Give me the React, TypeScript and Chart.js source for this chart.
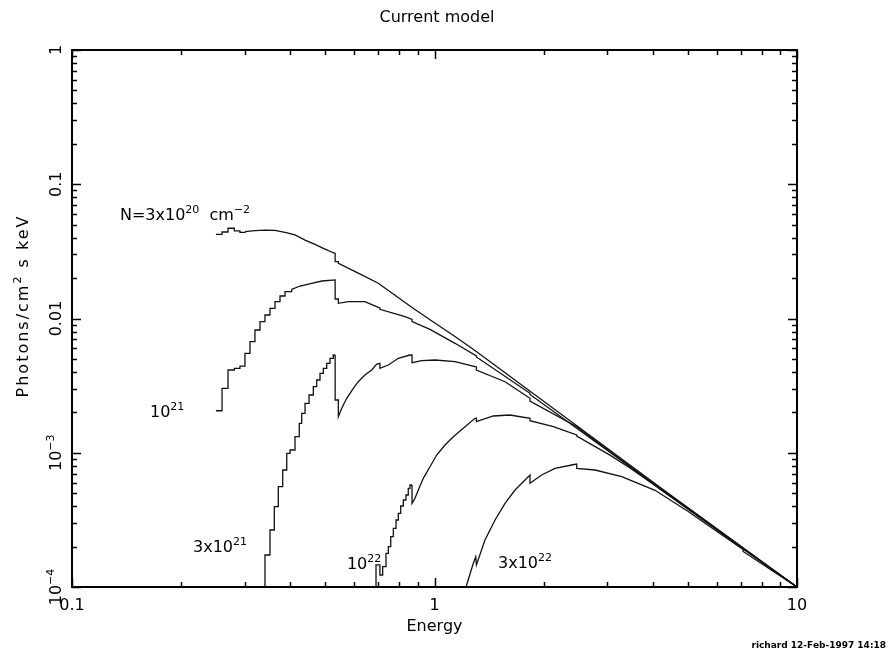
import React, { useEffect, useRef } from 'react';
import { Chart, registerables } from 'chart.js';

Chart.register(...registerables);

// ---------- axis ticks / labels ----------
const xMajorValues = [0.1, 1, 10];
const xTickLabels = ['0.1', '1', '10'];
const yMajorValues = [1, 0.1, 0.01, 1e-3, 1e-4];
const yTickBase = ['1', '0.1', '0.01', '10', '10'];
const yTickSup = ['', '', '', '\u22123', '\u22124'];

const titleText = 'Current model';
const xTitle = 'Energy';
const footerText = 'richard 12-Feb-1997 14:18';

// ---------- curve 1 : N = 3e20 ----------
const c1StepE = [0.2495, 0.2594, 0.2694, 0.2804, 0.2906, 0.3000];
const c1StepF = [0.0424, 0.0441, 0.0470, 0.0449, 0.0438, 0.0443];
const c1LineE = [0.3000, 0.3197, 0.3407, 0.3631, 0.3869, 0.4123, 0.4394, 0.4681, 0.4988, 0.5257, 0.532, 0.532, 0.543, 0.543, 0.62, 0.6998, 0.8652, 0.9718, 1.139, 1.307, 4.28, 10];
const c1LineF = [0.0443, 0.0452, 0.0456, 0.0454, 0.0438, 0.0419, 0.0384, 0.0356, 0.0329, 0.0309, 0.0305, 0.0265, 0.0265, 0.0258, 0.0216, 0.0183, 0.01212, 0.0098, 0.00735, 0.00565, 5.3e-4, 1.0e-4];

// ---------- curve 2 : N = 1e21 ----------
const c2StepE = [0.2495, 0.2594, 0.2694, 0.2804, 0.2906, 0.3000, 0.3097, 0.3197, 0.3301, 0.3407, 0.3517, 0.3631, 0.3748, 0.3869, 0.4037];
const c2StepF = [0.002056, 0.003020, 0.004134, 0.00425, 0.00442, 0.005506, 0.006719, 0.008208, 0.009467, 0.010619, 0.011912, 0.013336, 0.014712, 0.015836, 0.0165];
const c2LineE = [0.4037, 0.4256, 0.4585, 0.4894, 0.532, 0.532, 0.543, 0.543, 0.5783, 0.6427, 0.6998, 0.707, 0.707, 0.8291, 0.867, 0.867, 0.9718, 1.139, 1.305, 1.305, 1.834, 1.834, 4.28, 10];
const c2LineF = [0.0165, 0.01746, 0.0183, 0.01902, 0.0194, 0.01397, 0.01397, 0.01298, 0.01334, 0.01334, 0.01212, 0.0120, 0.01171, 0.01031, 0.00983, 0.00947, 0.008307, 0.006534, 0.005257, 0.005166, 0.002773, 0.00272, 5.2e-4, 1.0e-4];

// ---------- curve 3 : N = 3e21 ----------
const c3StepE = [0.3343, 0.3407, 0.3517, 0.3615, 0.3708, 0.3813, 0.3912, 0.3995, 0.4123, 0.4236, 0.4302, 0.4394, 0.4506, 0.4631, 0.4732, 0.4832, 0.4934, 0.5042, 0.5148, 0.5257, 0.532];
const c3StepF = [1.0e-4, 1.731e-4, 2.658e-4, 3.963e-4, 5.587e-4, 7.437e-4, 9.906e-4, 1.0483e-3, 1.3167e-3, 1.657e-3, 1.967e-3, 2.335e-3, 2.692e-3, 3.105e-3, 3.482e-3, 3.906e-3, 4.256e-3, 4.637e-3, 5.052e-3, 5.346e-3, 5.346e-3];
const c3LineE = [0.532, 0.532, 0.543, 0.543, 0.5522, 0.5603, 0.5726, 0.5847, 0.5971, 0.6163, 0.6427, 0.6710, 0.6928, 0.707, 0.707, 0.7459, 0.7947, 0.8558, 0.867, 0.867, 0.9219, 1.003, 1.139, 1.2935, 1.305, 1.305, 1.565, 1.834, 1.834, 2.468, 4.28, 7.1, 10];
const c3LineF = [5.346e-3, 2.471e-3, 2.471e-3, 1.856e-3, 2.082e-3, 2.268e-3, 2.544e-3, 2.773e-3, 3.021e-3, 3.382e-3, 3.794e-3, 4.134e-3, 4.582e-3, 4.637e-3, 4.256e-3, 4.504e-3, 5.052e-3, 5.346e-3, 5.36e-3, 4.686e-3, 4.850e-3, 4.909e-3, 4.767e-3, 4.375e-3, 4.36e-3, 4.134e-3, 3.382e-3, 2.544e-3, 2.429e-3, 1.563e-3, 5.15e-4, 1.93e-4, 1.0e-4];

// ---------- curve 4 : N = 1e22 ----------
const c4StepE = [0.6810, 0.6897, 0.707, 0.7195, 0.7348, 0.7459, 0.7574, 0.7699, 0.7833, 0.7947, 0.8069, 0.8203, 0.8343, 0.8466, 0.8558, 0.867];
const c4StepF = [1.0e-4, 1.46e-4, 1.229e-4, 1.416e-4, 1.782e-4, 1.996e-4, 2.369e-4, 2.736e-4, 3.155e-4, 3.540e-4, 4.012e-4, 4.446e-4, 4.845e-4, 5.435e-4, 5.751e-4, 5.751e-4];
const c4LineE = [0.867, 0.867, 0.8835, 0.9022, 0.9313, 0.9718, 1.014, 1.069, 1.127, 1.2005, 1.2935, 1.305, 1.305, 1.453, 1.615, 1.834, 1.834, 2.127, 2.468, 2.468, 3.049, 3.462, 5.0, 7.1, 7.1, 10];
const c4LineF = [5.751e-4, 4.202e-4, 4.577e-4, 5.279e-4, 6.451e-4, 7.870e-4, 9.62e-4, 1.1422e-3, 1.3167e-3, 1.5208e-3, 1.8055e-3, 1.81e-3, 1.7032e-3, 1.8781e-3, 1.9108e-3, 1.8055e-3, 1.7326e-3, 1.5631e-3, 1.3558e-3, 1.33e-3, 9.6e-4, 7.7e-4, 3.85e-4, 1.95e-4, 1.92e-4, 1.0e-4];

// ---------- curve 5 : N = 3e22 ----------
const c5LineE = [1.2217, 1.2795, 1.2993, 1.305, 1.378, 1.469, 1.565, 1.668, 1.777, 1.834, 1.834, 1.975, 2.150, 2.390, 2.468, 2.468, 2.772, 3.284, 4.058, 5.013, 5.575, 7.1, 7.1, 10];
const c5LineF = [1.0e-4, 1.501e-4, 1.681e-4, 1.459e-4, 2.239e-4, 3.155e-4, 4.202e-4, 5.279e-4, 6.266e-4, 6.83e-4, 5.921e-4, 6.83e-4, 7.658e-4, 8.105e-4, 8.246e-4, 7.658e-4, 7.437e-4, 6.631e-4, 5.25e-4, 3.65e-4, 2.98e-4, 1.9e-4, 1.84e-4, 1.0e-4];

// ---------- curve labels (text, anchored in data coordinates) ----------
type Seg = { t: string; sup?: boolean };
const curveLabelTexts: Seg[][] = [
  [{ t: 'N=3x10' }, { t: '20', sup: true }, { t: '  cm' }, { t: '\u22122', sup: true }],
  [{ t: '10' }, { t: '21', sup: true }],
  [{ t: '3x10' }, { t: '21', sup: true }],
  [{ t: '10' }, { t: '22', sup: true }],
  [{ t: '3x10' }, { t: '22', sup: true }],
];
const curveLabelE = [0.1356, 0.1641, 0.2157, 0.5734, 1.497];
const curveLabelF = [0.0542, 1.845e-3, 1.823e-4, 1.361e-4, 1.385e-4];

const FONT = '"DejaVu Sans", "Liberation Sans", sans-serif';
const MAIN = 16;
const SUP = 11;
const RISE = 7;

function zip(e: number[], f: number[]) {
  return e.map((x, i) => ({ x, y: f[i] }));
}

function drawRich(ctx: CanvasRenderingContext2D, segs: Seg[], x: number, y: number, align: 'left' | 'center' | 'right') {
  const widths = segs.map((s) => {
    ctx.font = `${s.sup ? SUP : MAIN}px ${FONT}`;
    return ctx.measureText(s.t).width;
  });
  const total = widths.reduce((a, b) => a + b, 0);
  let cx = align === 'left' ? x : align === 'center' ? x - total / 2 : x - total;
  ctx.textAlign = 'left';
  ctx.textBaseline = 'alphabetic';
  segs.forEach((s, i) => {
    ctx.font = `${s.sup ? SUP : MAIN}px ${FONT}`;
    ctx.fillText(s.t, cx, s.sup ? y - RISE : y);
    cx += widths[i];
  });
}

const framePlugin = {
  id: 'pgframe',
  afterDraw(chart: any) {
    const ctx: CanvasRenderingContext2D = chart.ctx;
    const { left, right, top, bottom } = chart.chartArea;
    const xs = chart.scales.x;
    const ys = chart.scales.y;
    ctx.save();
    ctx.strokeStyle = '#000';
    ctx.fillStyle = '#000';
    // frame
    ctx.lineWidth = 2;
    ctx.strokeRect(left, top, right - left, bottom - top);
    // ticks
    ctx.lineWidth = 1.5;
    ctx.beginPath();
    for (let d = -1; d <= 1; d++) {
      for (let k = 1; k <= 9; k++) {
        const v = k * Math.pow(10, d);
        if (v < 0.1 - 1e-9 || v > 10 + 1e-9) continue;
        const px = Math.round(xs.getPixelForValue(v)) + 0.5;
        const len = k === 1 ? 9 : 5;
        ctx.moveTo(px, bottom);
        ctx.lineTo(px, bottom - len);
        ctx.moveTo(px, top);
        ctx.lineTo(px, top + len);
      }
    }
    for (let d = -4; d <= 0; d++) {
      for (let k = 1; k <= 9; k++) {
        const v = k * Math.pow(10, d);
        if (v > 1 + 1e-9) continue;
        const py = Math.round(ys.getPixelForValue(v)) + 0.5;
        const len = k === 1 ? 9 : 5;
        ctx.moveTo(left, py);
        ctx.lineTo(left + len, py);
        ctx.moveTo(right, py);
        ctx.lineTo(right - len, py);
      }
    }
    ctx.stroke();

    // x tick labels
    ctx.font = `${MAIN}px ${FONT}`;
    ctx.textAlign = 'center';
    ctx.textBaseline = 'alphabetic';
    xMajorValues.forEach((v, i) => {
      ctx.fillText(xTickLabels[i], xs.getPixelForValue(v), bottom + 23);
    });
    // x title
    ctx.fillText(xTitle, (left + right) / 2, bottom + 44);
    // main title
    ctx.fillText(titleText, 437, 22);

    // y tick labels (rotated, reading upwards)
    yMajorValues.forEach((v, i) => {
      const py = ys.getPixelForValue(v);
      ctx.save();
      ctx.translate(left - 17, py);
      ctx.rotate(-Math.PI / 2);
      const segs: Seg[] = [{ t: yTickBase[i] }];
      if (yTickSup[i]) segs.push({ t: yTickSup[i], sup: true });
      drawRich(ctx, segs, 0, 6, 'center');
      ctx.restore();
    });

    // y title
    ctx.save();
    ctx.translate(28, 306);
    ctx.rotate(-Math.PI / 2);
    (ctx as any).letterSpacing = '2px';
    drawRich(ctx, [{ t: 'Photons/cm' }, { t: '2', sup: true }, { t: ' s keV' }], 0, 0, 'center');
    (ctx as any).letterSpacing = '0px';
    ctx.restore();

    // curve labels
    curveLabelTexts.forEach((segs, i) => {
      drawRich(ctx, segs, xs.getPixelForValue(curveLabelE[i]), ys.getPixelForValue(curveLabelF[i]), 'left');
    });

    // footer
    ctx.font = `bold 9px ${FONT}`;
    ctx.textAlign = 'right';
    ctx.textBaseline = 'alphabetic';
    ctx.fillText(footerText, 886, 648);
    ctx.restore();
  },
};

export default function App() {
  const ref = useRef<HTMLCanvasElement | null>(null);
  useEffect(() => {
    document.body.style.margin = '0';
    const canvas = ref.current;
    if (!canvas) return;
    const line = (e: number[], f: number[], stepped: any = false) => ({
      data: zip(e, f),
      stepped,
      borderColor: '#111',
      borderWidth: 1.3,
      pointRadius: 0,
      fill: false,
      tension: 0,
    });
    const chart = new Chart(canvas, {
      type: 'line',
      data: {
        datasets: [
          line(c1StepE, c1StepF, 'before'),
          line(c1LineE, c1LineF),
          line(c2StepE, c2StepF, 'before'),
          line(c2LineE, c2LineF),
          line(c3StepE, c3StepF, 'before'),
          line(c3LineE, c3LineF),
          line(c4StepE, c4StepF, 'before'),
          line(c4LineE, c4LineF),
          line(c5LineE, c5LineF),
        ] as any,
      },
      options: {
        animation: false,
        responsive: false,
        devicePixelRatio: 1,
        layout: { padding: { left: 72, top: 50, right: 97, bottom: 65 } },
        plugins: { legend: { display: false }, tooltip: { enabled: false }, title: { display: false } },
        scales: {
          x: { type: 'logarithmic', min: 0.1, max: 10, display: false },
          y: { type: 'logarithmic', min: 1e-4, max: 1, display: false },
        },
      },
      plugins: [framePlugin],
    } as any);
    return () => chart.destroy();
  }, []);
  return (
    <div style={{ position: 'absolute', left: 0, top: 0, width: 894, height: 652, background: '#fff' }}>
      <canvas ref={ref} width={894} height={652} style={{ display: 'block' }} />
    </div>
  );
}
